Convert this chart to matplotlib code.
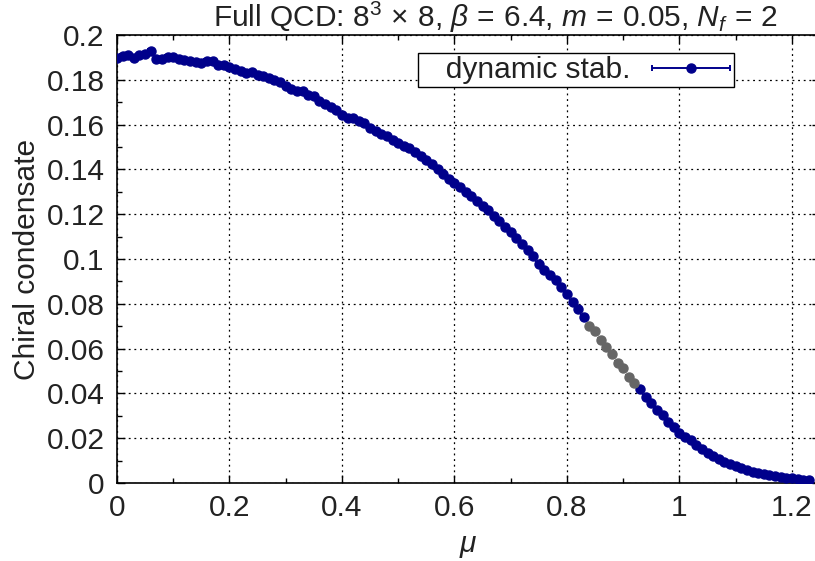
import matplotlib
matplotlib.use('Agg')
import matplotlib.pyplot as plt
from matplotlib.ticker import MultipleLocator
from matplotlib.container import ErrorbarContainer
from matplotlib.legend_handler import HandlerErrorbar

plt.rcParams['font.family'] = ['Liberation Sans', 'DejaVu Sans']
plt.rcParams['mathtext.fontset'] = 'custom'
plt.rcParams['mathtext.rm'] = 'Liberation Sans'
plt.rcParams['mathtext.it'] = 'Liberation Sans:italic'

# ---- data ----
mu = [0.00, 0.01, 0.02, 0.03, 0.04, 0.05, 0.06, 0.07, 0.08, 0.09,
      0.10, 0.11, 0.12, 0.13, 0.14, 0.15, 0.16, 0.17, 0.18, 0.19,
      0.20, 0.21, 0.22, 0.23, 0.24, 0.25, 0.26, 0.27, 0.28, 0.29,
      0.30, 0.31, 0.32, 0.33, 0.34, 0.35, 0.36, 0.37, 0.38, 0.39,
      0.40, 0.41, 0.42, 0.43, 0.44, 0.45, 0.46, 0.47, 0.48, 0.49,
      0.50, 0.51, 0.52, 0.53, 0.54, 0.55, 0.56, 0.57, 0.58, 0.59,
      0.60, 0.61, 0.62, 0.63, 0.64, 0.65, 0.66, 0.67, 0.68, 0.69,
      0.70, 0.71, 0.72, 0.73, 0.74, 0.75, 0.76, 0.77, 0.78, 0.79,
      0.80, 0.81, 0.82, 0.83, 0.84, 0.85, 0.86, 0.87, 0.88, 0.89,
      0.90, 0.91, 0.92, 0.93, 0.94, 0.95, 0.96, 0.97, 0.98, 0.99,
      1.00, 1.01, 1.02, 1.03, 1.04, 1.05, 1.06, 1.07, 1.08, 1.09,
      1.10, 1.11, 1.12, 1.13, 1.14, 1.15, 1.16, 1.17, 1.18, 1.19,
      1.20, 1.21, 1.22, 1.23]
condensate = [0.1898, 0.1906, 0.1912, 0.1898, 0.1912, 0.1916, 0.1927, 0.1894, 0.1891, 0.1900,
              0.1904, 0.1894, 0.1888, 0.1883, 0.1879, 0.1876, 0.1882, 0.1883, 0.1864, 0.1864,
              0.1857, 0.1846, 0.1839, 0.1832, 0.1837, 0.1821, 0.1816, 0.1809, 0.1798, 0.1789,
              0.1772, 0.1758, 0.1752, 0.1748, 0.1730, 0.1727, 0.1705, 0.1690, 0.1678, 0.1667,
              0.1645, 0.1628, 0.1630, 0.1618, 0.1608, 0.1586, 0.1572, 0.1560, 0.1548, 0.1533,
              0.1519, 0.1506, 0.1496, 0.1478, 0.1460, 0.1443, 0.1425, 0.1400, 0.1380, 0.1358,
              0.1340, 0.1322, 0.1298, 0.1283, 0.1258, 0.1235, 0.1220, 0.1190, 0.1168, 0.1143,
              0.1119, 0.1094, 0.1068, 0.1038, 0.1012, 0.0979, 0.0952, 0.0930, 0.0905, 0.0875,
              0.0842, 0.0810, 0.0775, 0.0741, 0.0702, 0.0677, 0.0639, 0.0607, 0.0577, 0.0535,
              0.0513, 0.0475, 0.0446, 0.0419, 0.0386, 0.0356, 0.0326, 0.0304, 0.0274, 0.0252,
              0.0225, 0.0207, 0.0192, 0.0168, 0.0150, 0.0133, 0.0120, 0.0106, 0.0095, 0.0085,
              0.0074, 0.0066, 0.0057, 0.0049, 0.0043, 0.0039, 0.0034, 0.0031, 0.0027, 0.0024,
              0.0021, 0.0018, 0.0015, 0.0013]
mu_err = 0.005
gray_range = (0.835, 0.925)   # points drawn in gray

x_ticks = [0, 0.2, 0.4, 0.6, 0.8, 1.0, 1.2]
x_tick_labels = ['0', '0.2', '0.4', '0.6', '0.8', '1', '1.2']
y_ticks = [0, 0.02, 0.04, 0.06, 0.08, 0.1, 0.12, 0.14, 0.16, 0.18, 0.2]
y_tick_labels = ['0', '0.02', '0.04', '0.06', '0.08', '0.1', '0.12', '0.14', '0.16', '0.18', '0.2']

blue_x = [m for m in mu if not (gray_range[0] < m < gray_range[1])]
blue_y = [c for m, c in zip(mu, condensate) if not (gray_range[0] < m < gray_range[1])]
gray_x = [m for m in mu if gray_range[0] < m < gray_range[1]]
gray_y = [c for m, c in zip(mu, condensate) if gray_range[0] < m < gray_range[1]]

W, H = 815, 561
fig = plt.figure(figsize=(W / 100, H / 100), dpi=100)
x0, x1 = 117, 820
y0, y1 = 483, 35
ax = fig.add_axes([x0 / W, 1 - y0 / H, (x1 - x0) / W, (y0 - y1) / H])

blue = '#00008b'
gray = '#666666'
txt = '#222222'
FS = 21.5
ax.errorbar(blue_x, blue_y, xerr=mu_err, fmt='o', color=blue, ms=6.5,
            mec=blue, elinewidth=1.4, capsize=2.4, capthick=1.4,
            label='dynamic stab.', zorder=3)
ax.errorbar(gray_x, gray_y, xerr=mu_err, fmt='o', color=gray, ms=6.5,
            mec=gray, elinewidth=1.4, capsize=2.4, capthick=1.4, zorder=3)

ax.set_xlim(0, 1.25)
ax.set_ylim(0, 0.2)
ax.set_xticks(x_ticks)
ax.set_xticklabels(x_tick_labels)
ax.set_yticks(y_ticks)
ax.set_yticklabels(y_tick_labels)
ax.xaxis.set_minor_locator(MultipleLocator(0.1))
ax.yaxis.set_minor_locator(MultipleLocator(0.01))
ax.tick_params(which='both', direction='in', top=True, right=True, colors='black',
               labelcolor=txt, labelsize=FS)
ax.tick_params(which='major', length=6, width=1)
ax.tick_params(which='minor', length=3.5, width=1)
ax.tick_params(axis='x', which='major', pad=8)
ax.tick_params(axis='y', which='major', pad=9)

ax.grid(True, which='major', color='black', linestyle=(0, (1.5, 3)), linewidth=0.9)
for s in ax.spines.values():
    s.set_linewidth(1.2)

ax.set_xlabel(r'$\mu$', fontsize=FS, color=txt, labelpad=7)
ax.set_ylabel('Chiral condensate', fontsize=FS, color=txt, labelpad=4)

fig.text(495 / W, 1 - 17 / H,
         r'Full QCD: $8^3\,\times\,8$, $\beta\,=\,6.4$, $m\,=\,0.05$, $N_f\,=\,2$',
         ha='center', va='center', fontsize=FS, color=txt)

leg = ax.legend(loc='upper right', bbox_to_anchor=((734 - x0) / (x1 - x0), (y0 - 53) / (y0 - y1)),
                markerfirst=False, fontsize=FS, handlelength=2.7, handletextpad=0.65,
                borderpad=0.1, borderaxespad=0, fancybox=False, framealpha=1,
                edgecolor='black',
                handler_map={ErrorbarContainer: HandlerErrorbar(xerr_size=1.3)})
leg.get_frame().set_linewidth(1.0)
for t in leg.get_texts():
    t.set_text('   dynamic stab.')
    t.set_color(txt)
leg.set_zorder(5)

fig.savefig('out.png', dpi=100)
